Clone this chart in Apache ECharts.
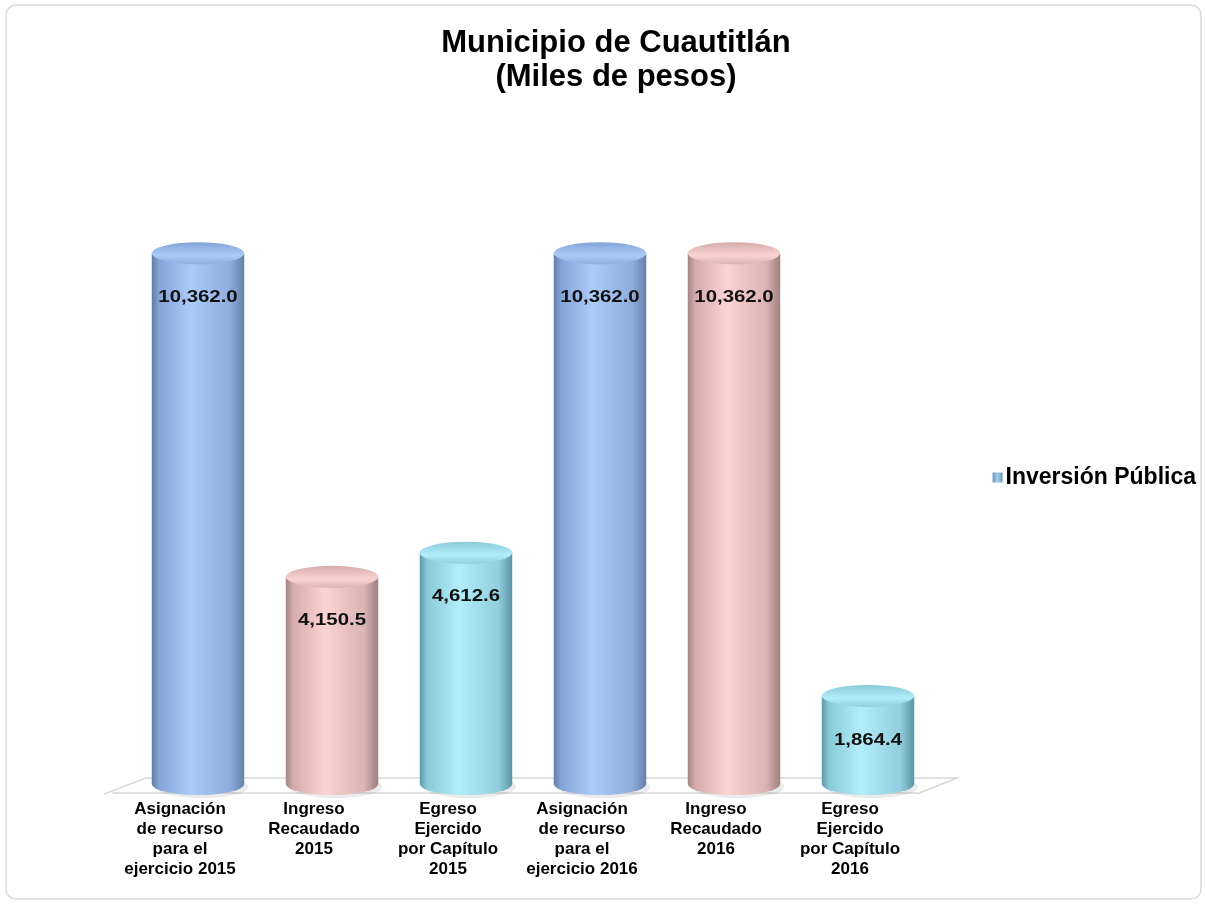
<!DOCTYPE html>
<html>
<head>
<meta charset="utf-8">
<script src="https://cdn.jsdelivr.net/npm/echarts@6/dist/echarts.min.js"></script>
<style>
  html, body { margin: 0; padding: 0; background: #fff; }
  #main { width: 1205px; height: 904px; }
</style>
</head>
<body>
<div id="main"></div>
<script>
// datos del gráfico
var categories = [
    'Asignación\nde recurso\npara el\nejercicio 2015',
    'Ingreso\nRecaudado\n2015',
    'Egreso\nEjercido\npor Capítulo\n2015',
    'Asignación\nde recurso\npara el\nejercicio 2016',
    'Ingreso\nRecaudado\n2016',
    'Egreso\nEjercido\npor Capítulo\n2016'
];
var values = [10362.0, 4150.5, 4612.6, 10362.0, 10362.0, 1864.4];
var colorKeys = ['blue', 'pink', 'teal', 'blue', 'pink', 'teal'];
var seriesName = 'Inversión Pública';

// colores de los cilindros (borde, medio, centro claro, medio, borde)
var palettes = {
    blue: ['#647ca4', '#84a4d8', '#abcbf8', '#8eacdc', '#6580ab'],
    pink: ['#a38585', '#d5abab', '#fcd3d3', '#dab3b3', '#a08080'],
    teal: ['#5e97a7', '#8acad9', '#b2edfa', '#92cede', '#5c95a5']
};

function bodyGradient(p) {
    return new echarts.graphic.LinearGradient(0, 0, 1, 0, [
        { offset: 0, color: p[0] },
        { offset: 0.08, color: p[1] },
        { offset: 0.42, color: p[2] },
        { offset: 0.85, color: p[3] },
        { offset: 1, color: p[4] }
    ]);
}

function fmt(v) {
    return v.toLocaleString('en-US', { minimumFractionDigits: 1, maximumFractionDigits: 1 });
}

var depth = 18;   // desplazamiento de la profundidad 3D

function renderItem(params, api) {
    var i = params.dataIndex;
    var top = api.coord([i, api.value(1)]);
    var base = api.coord([i, 0]);
    var w = api.size([1, 0])[0] * 0.69;
    var cx = top[0] + depth;
    var rx = w / 2;
    var ry = 11;
    var topY = top[1];
    var botY = base[1] - 9;
    var p = palettes[colorKeys[i]];
    var grad = bodyGradient(p);

    return {
        type: 'group',
        children: [
            // sombra suave
            {
                type: 'circle',
                x: cx + 4, y: botY + 3, scaleY: ry / rx,
                shape: { cx: 0, cy: 0, r: rx },
                style: { fill: 'rgba(0,0,0,0.08)' }
            },
            {
                type: 'circle',
                x: cx, y: botY, scaleY: ry / rx,
                shape: { cx: 0, cy: 0, r: rx },
                style: { fill: grad }
            },
            {
                type: 'rect',
                shape: { x: cx - rx, y: topY, width: w, height: botY - topY },
                style: { fill: grad }
            },
            {
                type: 'circle',
                x: cx, y: topY, scaleY: ry / rx,
                shape: { cx: 0, cy: 0, r: rx },
                style: {
                    fill: new echarts.graphic.LinearGradient(0, 0, 0, 1, [
                        { offset: 0, color: p[1] },
                        { offset: 0.6, color: p[2] },
                        { offset: 1, color: p[3] }
                    ])
                }
            },
            {
                type: 'text',
                x: cx,
                y: topY + 44,
                scaleX: 1.2,
                style: {
                    text: fmt(api.value(1)),
                    fill: '#111',
                    font: 'bold 17px "Liberation Sans", Arial, sans-serif',
                    align: 'center',
                    verticalAlign: 'middle'
                }
            }
        ]
    };
}

var myChart = echarts.init(document.getElementById('main'));

var option = {
    backgroundColor: '#fff',
    title: {
        text: 'Municipio de Cuautitlán\n(Miles de pesos)',
        left: 611,
        top: 21,
        textAlign: 'center',
        textStyle: {
            fontFamily: '"Liberation Sans", Arial, sans-serif',
            fontWeight: 'bold',
            fontSize: 31,
            lineHeight: 34,
            color: '#000'
        }
    },
    legend: {
        right: 4,
        top: 461,
        icon: 'rect',
        itemWidth: 10,
        itemHeight: 10,
        itemGap: 4,
        textStyle: {
            fontFamily: '"Liberation Sans", Arial, sans-serif',
            fontWeight: 'bold',
            fontSize: 23,
            color: '#000',
            padding: [0, 0, 0, -2]
        },
        data: [{
            name: seriesName,
            itemStyle: {
                color: new echarts.graphic.LinearGradient(0, 0, 1, 0, [
                    { offset: 0, color: '#6f93c4' },
                    { offset: 0.5, color: '#9fd6e6' },
                    { offset: 1, color: '#6f93c4' }
                ])
            }
        }]
    },
    grid: {
        left: 113,
        right: 288,
        top: 220,
        bottom: 111
    },
    xAxis: {
        type: 'category',
        data: categories,
        axisLine: { lineStyle: { color: '#d9d9d9', width: 1.5 } },
        axisTick: { length: 7, lineStyle: { color: '#d9d9d9' } },
        axisLabel: {
            interval: 0,
            margin: 6,
            fontFamily: '"Liberation Sans", Arial, sans-serif',
            fontWeight: 'bold',
            fontSize: 17,
            lineHeight: 20,
            color: '#000'
        }
    },
    yAxis: {
        type: 'value',
        min: 0,
        max: 11000,
        show: false,
        splitLine: { show: false }
    },
    graphic: [
        {
            // marco del gráfico
            type: 'rect',
            shape: { x: 6, y: 5, width: 1195, height: 894, r: 10 },
            style: { fill: 'none', stroke: '#dcdcdc', lineWidth: 1.5 },
            silent: true,
            z: -10
        },
        {
            // piso 3D
            type: 'polyline',
            shape: { points: [[104, 794], [146, 778], [957, 778], [917, 794]] },
            style: { fill: 'none', stroke: '#d9d9d9', lineWidth: 1.5 },
            silent: true,
            z: -5
        }
    ],
    series: [{
        name: seriesName,
        type: 'custom',
        renderItem: renderItem,
        itemStyle: { color: '#8fb4d8' },
        encode: { x: 0, y: 1 },
        data: values.map(function (v, i) { return [i, v]; })
    }]
};

myChart.setOption(option);
</script>
</body>
</html>
